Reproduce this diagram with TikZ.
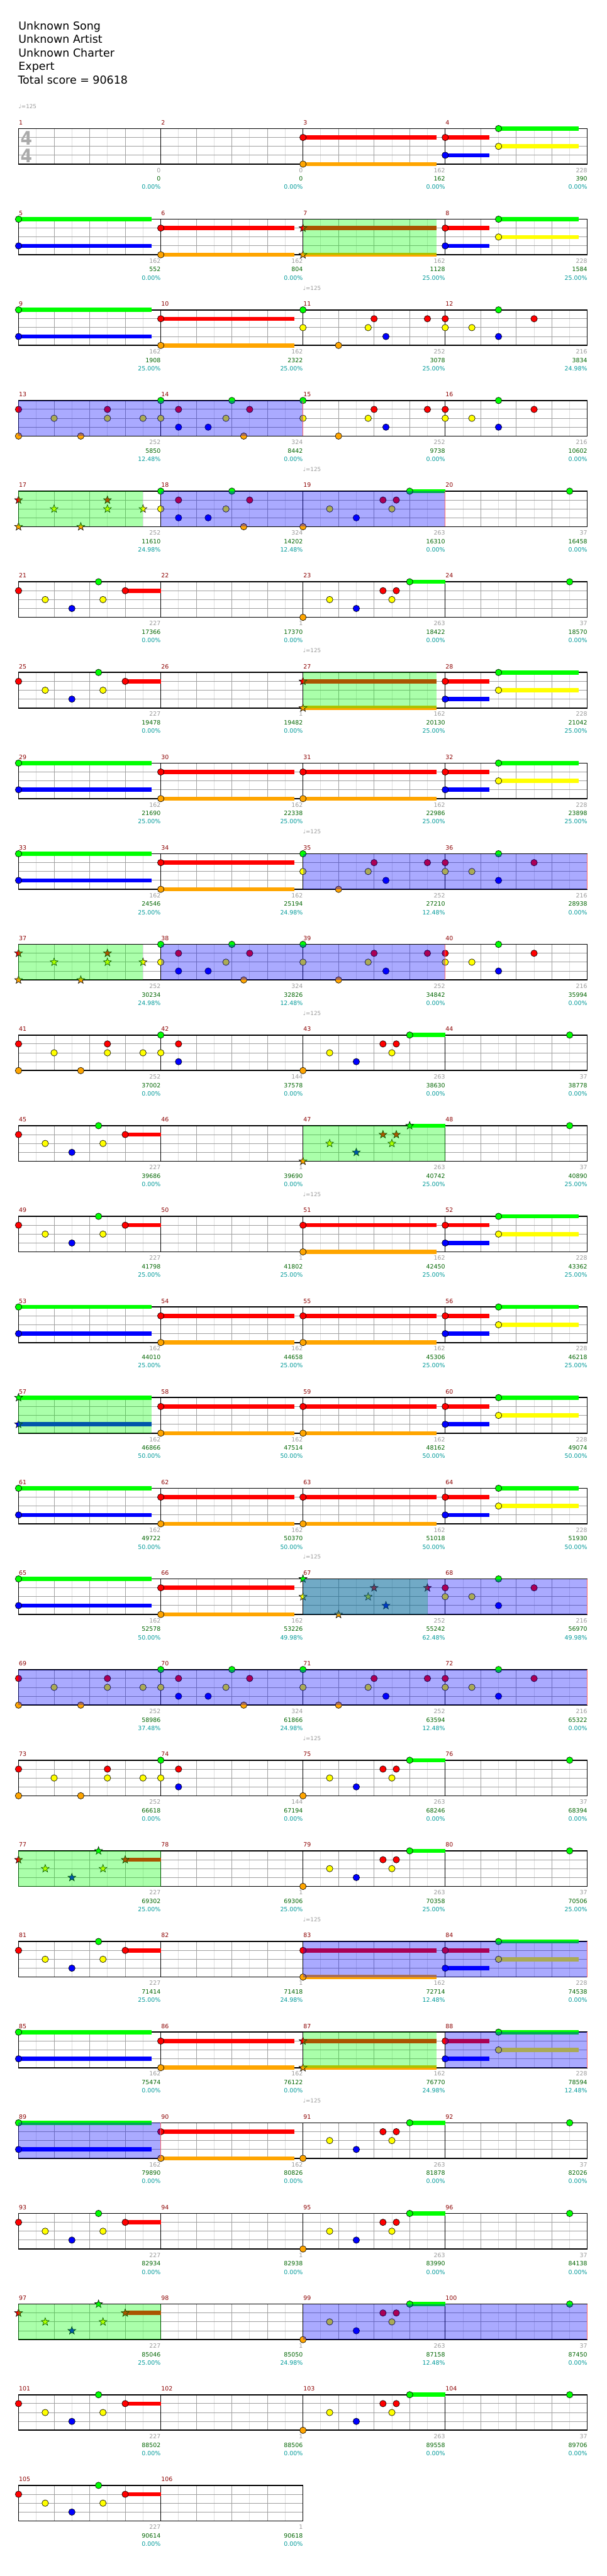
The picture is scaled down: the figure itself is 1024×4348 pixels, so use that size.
\documentclass[tikz,border=0pt]{standalone}
\usepackage{fontspec}
\setmainfont{DejaVu Sans}
\definecolor{ln0}{RGB}{0,255,0}
\definecolor{ln1}{RGB}{255,0,0}
\definecolor{ln2}{RGB}{255,255,0}
\definecolor{ln3}{RGB}{0,0,255}
\definecolor{ln4}{RGB}{255,165,0}
\definecolor{barcol}{RGB}{139,0,0}
\definecolor{gridmid}{RGB}{160,160,160}
\definecolor{gridlow}{RGB}{222,222,222}
\definecolor{scoregray}{RGB}{153,153,153}
\definecolor{scoregreen}{RGB}{0,100,0}
\definecolor{scoreteal}{RGB}{0,153,153}
\tikzset{
  gem/.style={draw=black, line width=0.5pt},
  holdbar/.style={line width=5.25pt},
  spzone/.style={fill=ln0, fill opacity=0.333},
  solozone/.style={fill=ln3, fill opacity=0.333},
  soloend/.style={draw=ln1!60, line width=0.6pt},
  barline/.style={draw=black, line width=0.75pt},
  staffline/.style={draw=black, line width=1.3pt},
  barnum/.style={font=\fontsize{7.5pt}{9pt}\selectfont, text=barcol, anchor=base west, inner sep=0pt},
  score/.style={font=\fontsize{7.5pt}{9pt}\selectfont, anchor=base east, inner sep=0pt},
  header/.style={font=\fontsize{13.9pt}{17pt}\selectfont, anchor=base west, inner sep=0pt},
  tempo/.style={font=\fontsize{7pt}{8pt}\selectfont, text=scoregray, anchor=west, inner sep=0pt},
  timesig/.style={font=\bfseries\fontsize{23.6pt}{24pt}\selectfont, text=black!33, inner sep=0pt},
}
% position of a gem: measure, beat, lane
\newcommand\notexy[3]{%
  \pgfmathsetmacro\nx{31.3+240*mod(#1-1,4)+60*#2}%
  \pgfmathsetmacro\ny{217+153*floor((#1-1)/4)+15*#3}}
\newcommand\nt[3]{\notexy{#1}{#2}{#3}\filldraw[gem, fill=ln#3] (\nx,\ny) circle[radius=5.5];}
\newcommand\st[3]{\notexy{#1}{#2}{#3}\filldraw[gem, fill=ln#3] (\nx,\ny)
  +(-90:7) -- +(-54:2.9) -- +(-18:7) -- +(18:2.9) -- +(54:7) -- +(90:2.9)
  -- +(126:7) -- +(162:2.9) -- +(198:7) -- +(234:2.9) -- cycle;}
\newcommand\hold[4]{\notexy{#1}{#2}{#3}\draw[holdbar, ln#3] (\nx,\ny) -- ++({60*#4},0);}
% overlays
\newcommand\zone[5]{\notexy{#2}{#3}{0}\let\xa\nx\let\ya\ny\notexy{#4}{#5}{0}%
  \fill[#1] (\xa,\ya) rectangle (\nx,\ny+60);}
\newcommand\solo[4]{\zone{solozone}{#1}{#2}{#3}{#4}\draw[soloend] (\nx,\ny) -- (\nx,\ny+60);}
% repeated measures
\newcommand\patA[2][\nt]{#1{#2}{0}{0}#1{#2}{0}{2}#1{#2}{1}{4}#1{#2}{1.8333}{2}#1{#2}{2}{1}#1{#2}{2.3333}{3}#1{#2}{3.5}{1}}
\newcommand\patB[2][\nt]{#1{#2}{0}{1}#1{#2}{0}{2}#1{#2}{0.75}{2}#1{#2}{1.5}{0}#1{#2}{1.5}{3}#1{#2}{2.5}{1}}
\newcommand\patC[2][\nt]{#1{#2}{0}{1}#1{#2}{0}{4}#1{#2}{1}{2}#1{#2}{1.75}{4}#1{#2}{2.5}{1}#1{#2}{2.5}{2}#1{#2}{3.5}{2}}
\newcommand\patD[2][\nt]{#1{#2}{0}{0}#1{#2}{0}{2}#1{#2}{0.5}{1}#1{#2}{0.5}{3}#1{#2}{1.3333}{3}#1{#2}{1.8333}{2}#1{#2}{2}{0}#1{#2}{2.3333}{4}#1{#2}{2.5}{1}}
\newcommand\patDs[2][\nt]{#1{#2}{0}{0}#1{#2}{0}{2}#1{#2}{0.5}{1}#1{#2}{0.5}{3}}
\newcommand\patE[2][\nt]{\hold{#2}{3}{0}{1}#1{#2}{0}{4}#1{#2}{0.75}{2}#1{#2}{1.5}{3}#1{#2}{2.25}{1}#1{#2}{2.5}{2}#1{#2}{2.625}{1}#1{#2}{3}{0}}
\newcommand\patF[2][\nt]{#1{#2}{3.5}{0}}
\newcommand\patG[2][\nt]{\hold{#2}{3}{1}{1}#1{#2}{0}{1}#1{#2}{0.75}{2}#1{#2}{1.5}{3}#1{#2}{2.25}{0}#1{#2}{2.375}{2}#1{#2}{3}{1}}
\newcommand\patH[2][\nt]{\hold{#2}{0}{0}{3.75}\hold{#2}{0}{3}{3.75}#1{#2}{0}{0}#1{#2}{0}{3}}
\newcommand\patI[2][\nt]{\hold{#2}{0}{1}{3.75}\hold{#2}{0}{4}{3.75}#1{#2}{0}{1}#1{#2}{0}{4}}
\newcommand\patJ[2][\nt]{\hold{#2}{0}{1}{1.25}\hold{#2}{0}{3}{1.25}\hold{#2}{1.5}{0}{2.25}\hold{#2}{1.5}{2}{2.25}%
  #1{#2}{0}{1}#1{#2}{0}{3}#1{#2}{1.5}{0}#1{#2}{1.5}{2}}

\begin{document}
\begin{tikzpicture}[x=0.75pt, y=-0.75pt]
  \useasboundingbox (0,0) rectangle (1024,4348);

  % header
  \node[header] (song) at (31,50) {Unknown Song};
  \node[header] (artist) at (31,73) {Unknown Artist};
  \node[header] (charter) at (31,96) {Unknown Charter};
  \node[header] (diff) at (31,118.5) {Expert};
  \node[header] (total) at (30,141.5) {Total score = 90618};

  % staves
  \foreach \r in {0,...,26}{
    \pgfmathsetmacro\yt{217+153*\r}
    \pgfmathtruncatemacro\nb{\r==26 ? 8 : 16}
    \pgfmathtruncatemacro\nm{\nb/4}
    \pgfmathsetmacro\xe{31.3+60*\nb}
    \foreach \k in {1,...,\nb} \draw[gridlow, line width=0.75pt] ({31.3+60*\k-30},\yt) -- ++(0,60);
    \foreach \k in {1,...,\nb} \draw[gridmid, line width=0.75pt] ({31.3+60*\k},\yt) -- ++(0,60);
    \foreach \j in {1,2,3} \draw[gridmid, line width=0.75pt] (31.3,\yt+15*\j) -- (\xe,\yt+15*\j);
    \foreach \k in {0,...,\nm} \draw[barline] ({31.3+240*\k},\yt) -- ++(0,60);
    \draw[staffline] (31.3,\yt) -- (\xe,\yt) (31.3,\yt+60) -- (\xe,\yt+60);
  }
  \node[timesig] (tsup) at (44.5,233) {\scalebox{0.9}[1]{4}};
  \node[timesig] (tsdown) at (44.5,263) {\scalebox{0.9}[1]{4}};

  % notes
  \patI{3}\patJ{4}
  \patH{5}\patI{6}\patI[\st]{7}\patJ{8}
  \patH{9}\patI{10}\patA{11}\patB{12}
  \patC{13}\patD{14}\patA{15}\patB{16}
  \patC[\st]{17}\patD{18}\patE{19}\patF{20}
  \patG{21}\patE{23}\patF{24}
  \patG{25}\patI[\st]{27}\patJ{28}
  \patH{29}\patI{30}\patI{31}\patJ{32}
  \patH{33}\patI{34}\patA{35}\patB{36}
  \patC[\st]{37}\patD{38}\patA{39}\patB{40}
  \patC{41}\patDs{42}\patE{43}\patF{44}
  \patG{45}\patE[\st]{47}\patF{48}
  \patG{49}\patI{51}\patJ{52}
  \patH{53}\patI{54}\patI{55}\patJ{56}
  \patH[\st]{57}\patI{58}\patI{59}\patJ{60}
  \patH{61}\patI{62}\patI{63}\patJ{64}
  \patH{65}\patI{66}\patA[\st]{67}\patB{68}
  \patC{69}\patD{70}\patA{71}\patB{72}
  \patC{73}\patDs{74}\patE{75}\patF{76}
  \patG[\st]{77}\patE{79}\patF{80}
  \patG{81}\patI{83}\patJ{84}
  \patH{85}\patI{86}\patI[\st]{87}\patJ{88}
  \patH{89}\patI{90}\patE{91}\patF{92}
  \patG{93}\patE{95}\patF{96}
  \patG[\st]{97}\patE{99}\patF{100}
  \patG{101}\patE{103}\patF{104}
  \patG{105}

  % star power phrases
  \zone{spzone}{7}{0}{7}{3.75}
  \zone{spzone}{17}{0}{17}{3.5}
  \zone{spzone}{27}{0}{27}{3.75}
  \zone{spzone}{37}{0}{37}{3.5}
  \zone{spzone}{47}{0}{47}{4}
  \zone{spzone}{57}{0}{57}{3.75}
  \zone{spzone}{67}{0}{67}{3.5}
  \zone{spzone}{77}{0}{77}{4}
  \zone{spzone}{87}{0}{87}{3.75}
  \zone{spzone}{97}{0}{97}{4}
  % activations
  \solo{13}{0}{14}{4}
  \solo{18}{0}{19}{4}
  \solo{35}{0}{36}{4}
  \solo{38}{0}{39}{4}
  \solo{67}{0}{68}{4}
  \solo{69}{0}{72}{4}
  \solo{83}{0}{84}{4}
  \solo{88}{0}{88}{4}
  \solo{89}{0}{89}{4}
  \solo{99}{0}{100}{4}

  % tempo marks
  \node[tempo] (bpm0) at (31.3,180) {♩=125};
  \foreach \r in {2,4,6,8,10,12,16,18,20,22}
    \node[tempo] (bpm\r) at (511.3,{217+153*\r-37}) {♩=125};

  % measure numbers and scores
  \foreach \mea/\pts/\tot/\pct in {1/0/0/0.00, 2/0/0/0.00, 3/162/162/0.00, 4/228/390/0.00,
      5/162/552/0.00, 6/162/804/0.00, 7/162/1128/25.00, 8/228/1584/25.00,
      9/162/1908/25.00, 10/162/2322/25.00, 11/252/3078/25.00, 12/216/3834/24.98,
      13/252/5850/12.48, 14/324/8442/0.00, 15/252/9738/0.00, 16/216/10602/0.00,
      17/252/11610/24.98, 18/324/14202/12.48, 19/263/16310/0.00, 20/37/16458/0.00,
      21/227/17366/0.00, 22/1/17370/0.00, 23/263/18422/0.00, 24/37/18570/0.00,
      25/227/19478/0.00, 26/1/19482/0.00, 27/162/20130/25.00, 28/228/21042/25.00,
      29/162/21690/25.00, 30/162/22338/25.00, 31/162/22986/25.00, 32/228/23898/25.00,
      33/162/24546/25.00, 34/162/25194/24.98, 35/252/27210/12.48, 36/216/28938/0.00,
      37/252/30234/24.98, 38/324/32826/12.48, 39/252/34842/0.00, 40/216/35994/0.00,
      41/252/37002/0.00, 42/144/37578/0.00, 43/263/38630/0.00, 44/37/38778/0.00,
      45/227/39686/0.00, 46/1/39690/0.00, 47/263/40742/25.00, 48/37/40890/25.00,
      49/227/41798/25.00, 50/1/41802/25.00, 51/162/42450/25.00, 52/228/43362/25.00,
      53/162/44010/25.00, 54/162/44658/25.00, 55/162/45306/25.00, 56/228/46218/25.00,
      57/162/46866/50.00, 58/162/47514/50.00, 59/162/48162/50.00, 60/228/49074/50.00,
      61/162/49722/50.00, 62/162/50370/50.00, 63/162/51018/50.00, 64/228/51930/50.00,
      65/162/52578/50.00, 66/162/53226/49.98, 67/252/55242/62.48, 68/216/56970/49.98,
      69/252/58986/37.48, 70/324/61866/24.98, 71/252/63594/12.48, 72/216/65322/0.00,
      73/252/66618/0.00, 74/144/67194/0.00, 75/263/68246/0.00, 76/37/68394/0.00,
      77/227/69302/25.00, 78/1/69306/25.00, 79/263/70358/25.00, 80/37/70506/25.00,
      81/227/71414/25.00, 82/1/71418/24.98, 83/162/72714/12.48, 84/228/74538/0.00,
      85/162/75474/0.00, 86/162/76122/0.00, 87/162/76770/24.98, 88/228/78594/12.48,
      89/162/79890/0.00, 90/162/80826/0.00, 91/263/81878/0.00, 92/37/82026/0.00,
      93/227/82934/0.00, 94/1/82938/0.00, 95/263/83990/0.00, 96/37/84138/0.00,
      97/227/85046/25.00, 98/1/85050/24.98, 99/263/87158/12.48, 100/37/87450/0.00,
      101/227/88502/0.00, 102/1/88506/0.00, 103/263/89558/0.00, 104/37/89706/0.00,
      105/227/90614/0.00, 106/1/90618/0.00}{
    \pgfmathsetmacro\xs{31.3+240*mod(\mea-1,4)}
    \pgfmathsetmacro\yt{217+153*floor((\mea-1)/4)}
    \node[barnum] (m\mea) at (\xs+0.5,\yt-6.5) {\mea};
    \node[score, text=scoregray] (g\mea) at (\xs+240,\yt+74) {\pts};
    \node[score, text=scoregreen] (c\mea) at (\xs+240,\yt+88.5) {\tot};
    \node[score, text=scoreteal] (p\mea) at (\xs+240,\yt+102.5) {\pct\%};
  }
\end{tikzpicture}
\end{document}
